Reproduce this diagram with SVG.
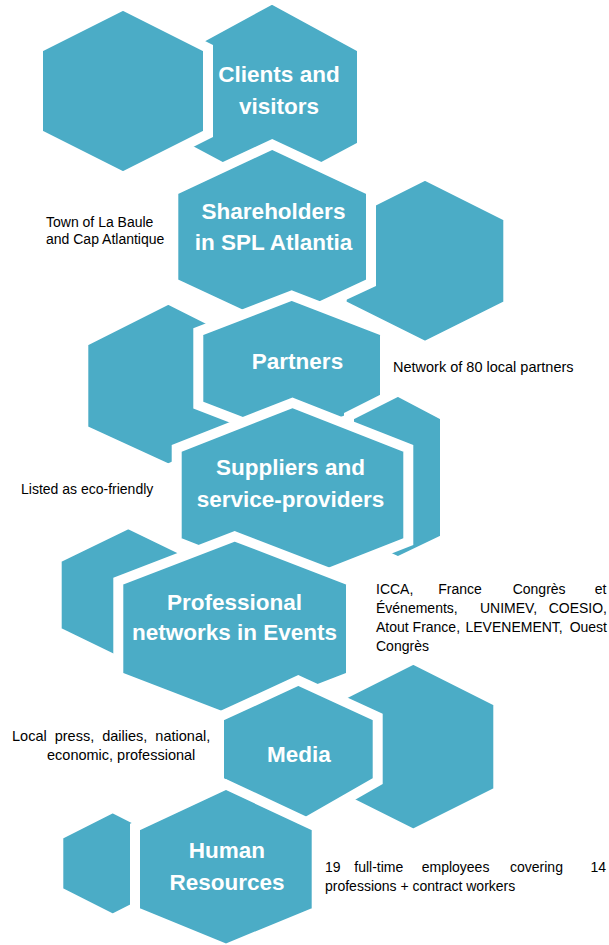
<svg xmlns="http://www.w3.org/2000/svg" width="609" height="945" viewBox="0 0 609 945">
<style>
.hex{fill:#4BACC6;stroke:#FFFFFF;stroke-width:10;stroke-linejoin:miter}
.t{font-family:"Liberation Sans",Arial,sans-serif;font-weight:bold;font-size:22.5px;fill:#FFFFFF;text-anchor:middle}
.s{font-family:"Liberation Sans",Arial,sans-serif;font-size:14px;fill:#000000}
.e{text-anchor:end}
</style>
<rect width="609" height="945" fill="#FFFFFF"/>
<g id="clients">
<polygon class="hex" points="272,-1 362,48 362,146 272,194 182,146 182,48"/>
</g>
<g id="decor-1">
<polygon class="hex" points="123,5.4 208,48 208,134 123,176.6 38,134 38,48"/>
</g>
<g id="clients-label"><text class="t" x="279" y="82">Clients and</text><text class="t" x="279" y="113.5">visitors</text></g>
<g id="decor-2">
<polygon class="hex" points="425,175.4 508.3,217 508.3,304.7 425,346.3 341.7,304.7 341.7,217"/>
</g>
<g id="shareholders">
<polygon class="hex" points="272.2,144.5 371,190.6 371,282.7 272.2,328.8 173.3,282.7 173.3,190.6"/>
<text class="t" x="273.5" y="218.5">Shareholders</text>
<text class="t" x="273.5" y="250">in SPL Atlantia</text>
</g>
<g id="shareholders-note"><text class="s" x="46" y="226.7">Town of La Baule</text><text class="s" x="46" y="244.3">and Cap Atlantique</text></g>
<g id="decor-3">
<polygon class="hex" points="168.3,299.4 253.3,342 253.3,429.7 168.3,468.9 83.3,429.7 83.3,342"/>
</g>
<g id="partners">
<polygon class="hex" points="291.7,295.6 385,331.6 385,405.1 291.7,441.1 198.3,405.1 198.3,331.6"/>
<text class="t" x="297.5" y="368.5">Partners</text>
</g>
<g id="partners-note"><text class="s" x="393" y="372" style="font-size:14.5px">Network of 80 local partners</text></g>
<g id="decor-4">
<polygon class="hex" points="398,391.4 445,416 445,539 398,561.6 349,539 349,416"/>
</g>
<g id="suppliers">
<polygon class="hex" points="292.5,402.9 408.3,448.3 408.3,541.7 292.5,587.1 176.7,541.7 176.7,448.3"/>
<text class="t" x="290.5" y="474.5">Suppliers and</text>
<text class="t" x="290.5" y="506.5">service-providers</text>
</g>
<g id="suppliers-note"><text class="s" x="21" y="494">Listed as eco-friendly</text></g>
<g id="decor-5">
<polygon class="hex" points="128.3,523.7 200,558.6 200,631.4 128.3,666.3 56.7,631.4 56.7,558.6"/>
</g>
<g id="networks">
<polygon class="hex" points="234.7,536.3 351,581.1 351,676.4 234.7,721.2 118.3,676.4 118.3,581.1"/>
<text class="t" x="234.6" y="609.5">Professional</text>
<text class="t" x="234.6" y="640">networks in Events</text>
</g>
<g id="networks-note">
<text class="s" x="376" y="593.5">ICCA,</text>
<text class="s" x="438.3" y="593.5">France</text>
<text class="s" x="512.7" y="593.5">Congrès</text>
<text class="s e" x="606.5" y="593.5">et</text>
<text class="s" x="376" y="612.5">Événements,</text>
<text class="s" x="480" y="612.5">UNIMEV,</text>
<text class="s e" x="607" y="612.5">COESIO,</text>
<text class="s" x="376" y="631.5">Atout France,</text>
<text class="s" x="465.5" y="631.5">LEVENEMENT,</text>
<text class="s e" x="607" y="631.5">Ouest</text>
<text class="s" x="376" y="650.5">Congrès</text>
</g>
<g id="decor-6">
<polygon class="hex" points="413.3,659.4 498.3,702 498.3,791.4 413.3,833.9 328.3,791.4 328.3,702"/>
</g>
<g id="media">
<polygon class="hex" points="298.3,680.5 377.7,717 377.7,781 298.3,826.5 219,781 219,717"/>
<text class="t" x="299" y="762">Media</text>
</g>
<g id="media-note"><text class="s" x="12" y="741" style="font-size:14.5px;word-spacing:4px">Local press, dailies, national,</text><text class="s" x="47" y="760" style="font-size:14.5px">economic, professional</text></g>
<g id="decor-7">
<polygon class="hex" points="112.7,807.7 167,835.2 167,891.4 112.7,918.9 58.3,891.4 58.3,835.2"/>
</g>
<g id="human-resources">
<polygon class="hex" points="226,784.5 316.7,827 316.7,911.5 226,948.9 135,911.5 135,827"/>
<text class="t" x="227" y="858">Human</text>
<text class="t" x="227" y="889.5">Resources</text>
</g>
<g id="hr-note">
<text class="s" x="325" y="871.5">19</text>
<text class="s" x="354.3" y="871.5">full-time</text>
<text class="s" x="421.7" y="871.5">employees</text>
<text class="s" x="510" y="871.5">covering</text>
<text class="s e" x="606" y="871.5">14</text>
<text class="s" x="325" y="891">professions + contract workers</text>
</g>
<g id="connectors"/>
</svg>
